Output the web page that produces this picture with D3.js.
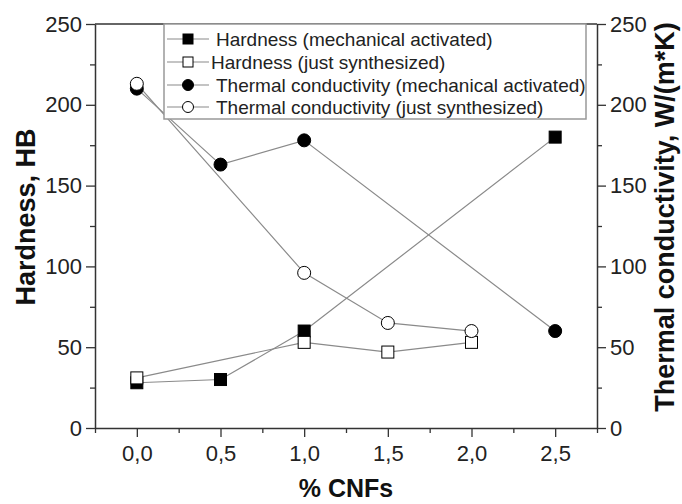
<!DOCTYPE html>
<html>
<head>
<meta charset="utf-8">
<script src="https://cdn.jsdelivr.net/npm/d3@7"></script>
<style>
  body { margin: 0; background: #fff; }
  svg { display: block; font-family: "Liberation Sans", Arial, sans-serif; }
</style>
</head>
<body>
<script>
// CNF content (%) shared by all series; null = not measured
const cnfContent = [0.0, 0.5, 1.0, 1.5, 2.0, 2.5];
const hardnessActivated = [28, 30, 60, null, null, 180];
const hardnessSynthesized = [31, null, 53, 47, 53, null];
const thermalActivated = [210, 163, 178, null, null, 60];
const thermalSynthesized = [213, null, 96, 65, 60, null];

const xTickValues = [0.0, 0.5, 1.0, 1.5, 2.0, 2.5];
const xTickLabels = ["0,0", "0,5", "1,0", "1,5", "2,0", "2,5"];
const yTickValues = [0, 50, 100, 150, 200, 250];

const seriesNames = [
  "Hardness (mechanical activated)",
  "Hardness (just synthesized)",
  "Thermal conductivity (mechanical activated)",
  "Thermal conductivity (just synthesized)"
];

const W = 682, H = 504;
const plot = { left: 95, right: 597, top: 24, bottom: 428 };
const axisColor = "#333";
const lineColor = "#8a8a8a";

const svg = d3.select("body").append("svg").attr("width", W).attr("height", H);

const x = d3.scaleLinear().domain([-0.25, 2.75]).range([plot.left, plot.right]);
const yLeft = d3.scaleLinear().domain([0, 250]).range([plot.bottom, plot.top]);
const yRight = d3.scaleLinear().domain([0, 250]).range([plot.bottom, plot.top]);

const xMinor = d3.range(-0.25, 2.76, 0.5);
const yMinor = d3.range(25, 250, 50);

function styleAxis(g) {
  g.selectAll("path.domain").attr("stroke", axisColor).attr("stroke-width", 1.5);
  g.selectAll(".tick line").attr("stroke", axisColor).attr("stroke-width", 1.3);
  g.selectAll(".tick text").attr("fill", "#222").attr("font-size", 22)
    .attr("font-family", "Liberation Sans, Arial, sans-serif");
}

// frame top line
svg.append("line")
  .attr("x1", plot.left).attr("x2", plot.right)
  .attr("y1", plot.top).attr("y2", plot.top)
  .attr("stroke", axisColor).attr("stroke-width", 1.5);

// bottom axis
const gx = svg.append("g").attr("transform", `translate(0,${plot.bottom})`)
  .call(d3.axisBottom(x).tickValues(xTickValues).tickSize(9).tickSizeOuter(0).tickPadding(8)
    .tickFormat((d, i) => xTickLabels[i]));
styleAxis(gx);
svg.append("g").attr("transform", `translate(0,${plot.bottom})`)
  .call(d3.axisBottom(x).tickValues(xMinor).tickSize(5).tickSizeOuter(0).tickFormat(""))
  .call(g => { g.select("path.domain").remove(); styleAxis(g); });

// left axis
const gl = svg.append("g").attr("transform", `translate(${plot.left},0)`)
  .call(d3.axisLeft(yLeft).tickValues(yTickValues).tickSize(9).tickSizeOuter(0).tickPadding(4)
    .tickFormat(d3.format("d")));
styleAxis(gl);
svg.append("g").attr("transform", `translate(${plot.left},0)`)
  .call(d3.axisLeft(yLeft).tickValues(yMinor).tickSize(5).tickSizeOuter(0).tickFormat(""))
  .call(g => { g.select("path.domain").remove(); styleAxis(g); });

// right axis
const gr = svg.append("g").attr("transform", `translate(${plot.right},0)`)
  .call(d3.axisRight(yRight).tickValues(yTickValues).tickSize(9).tickSizeOuter(0).tickPadding(4)
    .tickFormat(d3.format("d")));
styleAxis(gr);
svg.append("g").attr("transform", `translate(${plot.right},0)`)
  .call(d3.axisRight(yRight).tickValues(yMinor).tickSize(5).tickSizeOuter(0).tickFormat(""))
  .call(g => { g.select("path.domain").remove(); styleAxis(g); });

// axis titles
svg.append("text")
  .attr("transform", `translate(346,497)`)
  .attr("text-anchor", "middle").attr("font-weight", "bold").attr("font-size", 25)
  .attr("fill", "#111").text("% CNFs");
svg.append("text")
  .attr("transform", `translate(35,217) rotate(-90)`)
  .attr("text-anchor", "middle").attr("font-weight", "bold").attr("font-size", 27)
  .attr("fill", "#111").text("Hardness, HB");
svg.append("text")
  .attr("transform", `translate(674,217) rotate(-90)`)
  .attr("text-anchor", "middle").attr("font-weight", "bold").attr("font-size", 27)
  .attr("fill", "#111").text("Thermal conductivity, W/(m*K)");

// series definitions
const series = [
  { values: hardnessActivated, y: yLeft, shape: "square", fill: "#000" },
  { values: hardnessSynthesized, y: yLeft, shape: "square", fill: "#fff" },
  { values: thermalActivated, y: yRight, shape: "circle", fill: "#000" },
  { values: thermalSynthesized, y: yRight, shape: "circle", fill: "#fff" }
];
series.forEach(s => {
  s.points = cnfContent.map((c, i) => ({ c, v: s.values[i] })).filter(p => p.v !== null);
});

const line = d3.line();

// connecting lines
svg.append("g").selectAll("path").data(series).join("path")
  .attr("d", s => line(s.points.map(p => [x(p.c), s.y(p.v)])))
  .attr("fill", "none").attr("stroke", lineColor).attr("stroke-width", 1.2);

function drawMarker(g, shape, fill, cx, cy, size) {
  if (shape === "square") {
    g.append("rect").attr("x", cx - size / 2).attr("y", cy - size / 2)
      .attr("width", size).attr("height", size)
      .attr("fill", fill).attr("stroke", "#000").attr("stroke-width", 1);
  } else {
    g.append("circle").attr("cx", cx).attr("cy", cy).attr("r", size / 2 + 0.5)
      .attr("fill", fill).attr("stroke", "#000").attr("stroke-width", 1);
  }
}

// markers: activated series first, synthesized drawn on top
const markerOrder = [0, 2, 1, 3];
const gm = svg.append("g");
markerOrder.forEach(k => {
  const s = series[k];
  s.points.forEach(p => drawMarker(gm, s.shape, s.fill, x(p.c), s.y(p.v), 12));
});

// legend
const lg = svg.append("g");
lg.append("rect").attr("x", 164).attr("y", 24).attr("width", 422).attr("height", 95)
  .attr("fill", "#fff").attr("stroke", "#999").attr("stroke-width", 1.5);
const rowY = [39, 62, 85, 107];
const textX = [216, 211, 216, 216];
series.forEach((s, i) => {
  const ry = rowY[i];
  lg.append("line").attr("x1", 167).attr("x2", 209).attr("y1", ry).attr("y2", ry)
    .attr("stroke", lineColor).attr("stroke-width", 1.2);
  drawMarker(lg, s.shape, s.fill, 188, ry, 10);
  lg.append("text").attr("x", textX[i]).attr("y", ry).attr("dy", "0.36em")
    .attr("font-size", 19).attr("fill", "#222").text(seriesNames[i]);
});
</script>
</body>
</html>
